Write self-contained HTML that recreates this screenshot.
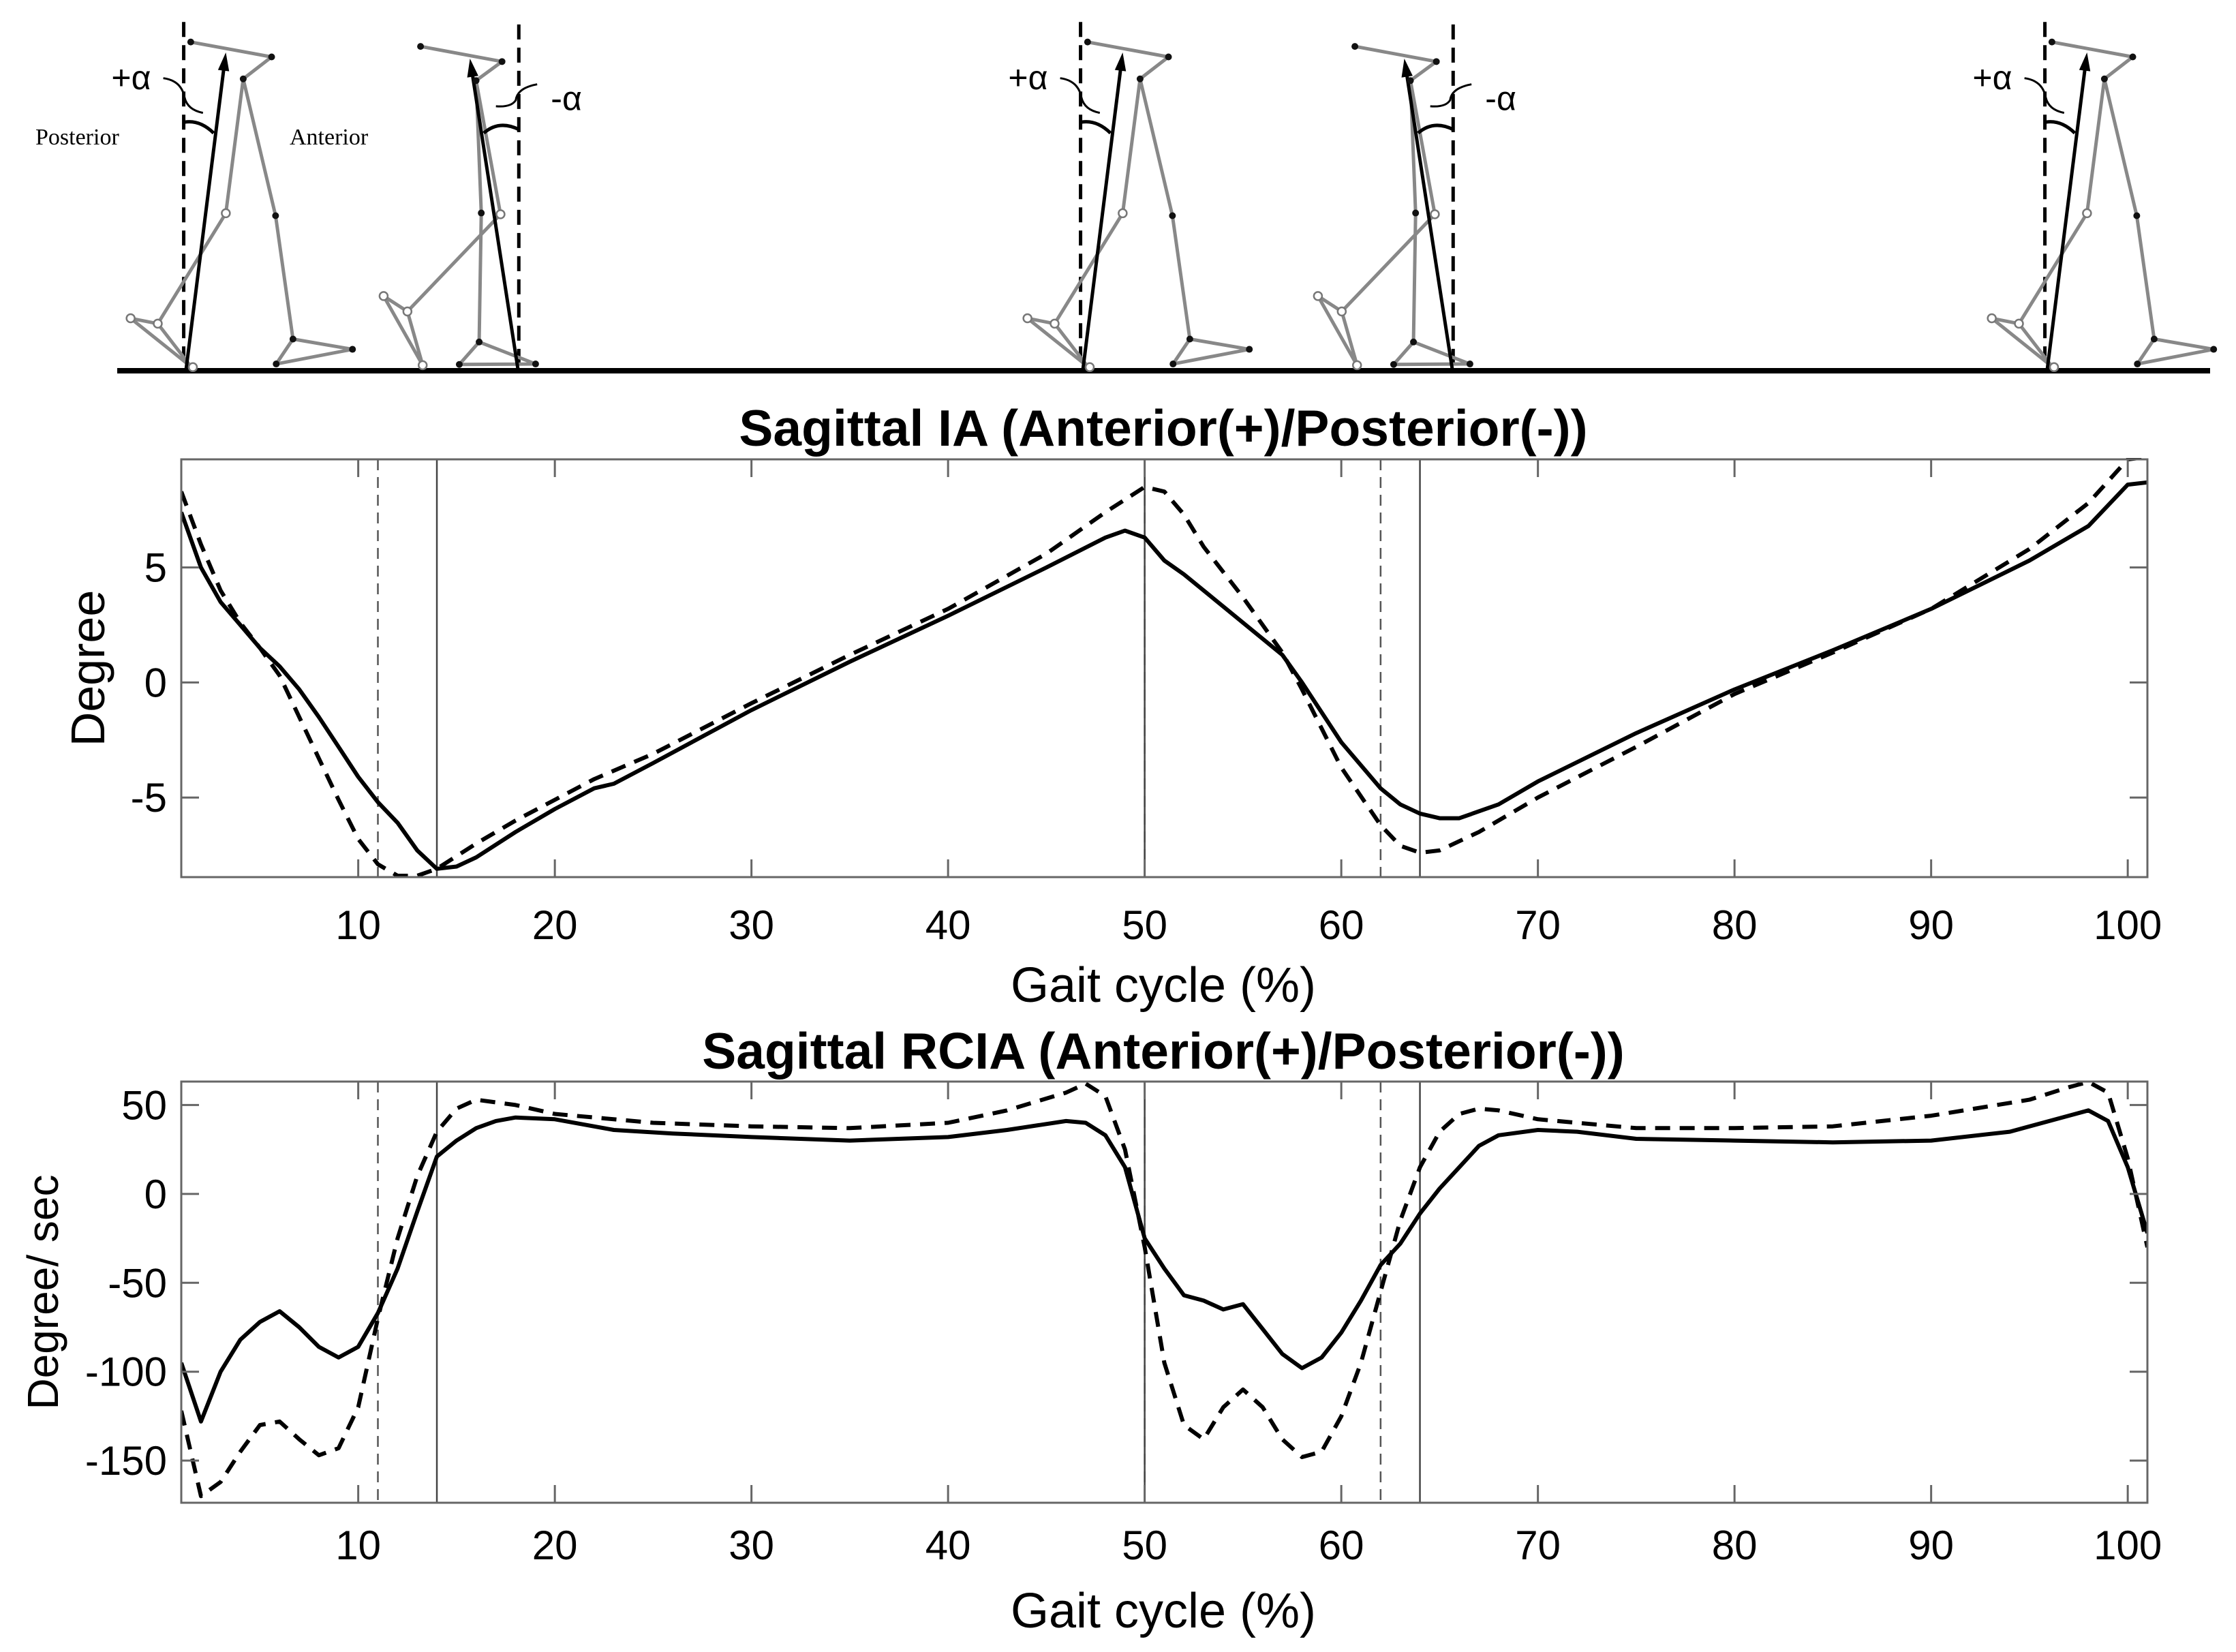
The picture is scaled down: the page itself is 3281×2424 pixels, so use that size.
<!DOCTYPE html>
<html><head><meta charset="utf-8">
<style>
html,body{margin:0;padding:0;background:#fff;}
svg{display:block;font-family:"Liberation Sans",Arial,sans-serif;}
</style></head>
<body>
<svg id="chart" width="3281" height="2424" viewBox="0 0 3281 2424" xmlns="http://www.w3.org/2000/svg">
<rect width="3281" height="2424" fill="#fff"/>
<g id="sticks"></g>
<g id="p1"></g>
<g id="p2"></g>
</svg>
<script>
const NS="http://www.w3.org/2000/svg";
// ---- data ----
const iaSolidX=[1,2,3,4,5,6,7,8,9,10,11,12,13,14,15,16,18,20,22,23,25,30,35,40,45,48,49,50,51,52,53,55,57,58,60,62,63,64,65,66,68,70,75,80,85,90,95,98,100,101];
const iaSolidY=[7.4,5,3.5,2.5,1.5,0.7,-0.3,-1.5,-2.8,-4.1,-5.2,-6.1,-7.3,-8.1,-8.0,-7.6,-6.5,-5.5,-4.6,-4.4,-3.5,-1.2,0.9,2.9,5.0,6.3,6.6,6.3,5.3,4.7,4.0,2.6,1.2,0,-2.6,-4.6,-5.3,-5.7,-5.9,-5.9,-5.3,-4.3,-2.2,-0.3,1.4,3.2,5.3,6.8,8.6,8.7];
const iaDashX=[1,2,3,4,5,6,7,8,9,10,11,12,13,14,16,18,20,22,25,30,35,40,45,48,50,51,52,53,55,57,58,60,62,63,64,65,67,70,75,80,85,90,95,98,100,101];
const iaDashY=[8.3,6,4.0,2.6,1.5,0.3,-1.5,-3.3,-5.1,-6.8,-7.9,-8.4,-8.4,-8.1,-7,-6,-5.1,-4.2,-3.1,-0.9,1.2,3.2,5.6,7.4,8.5,8.3,7.3,5.9,3.7,1.3,-0.3,-3.7,-6.2,-7.1,-7.4,-7.3,-6.5,-5,-2.8,-0.5,1.3,3.2,5.8,7.8,9.7,9.8];
const rcSolidX=[1,2,3,4,5,6,7,8,9,10,11,12,13,14,15,16,17,18,20,23,26,30,35,40,43,46,47,48,49,50,51,52,53,54,55,56,57,58,59,60,61,62,63,64,65,66,67,68,70,72,75,80,85,90,94,97,98,99,100,101];
const rcSolidY=[-95,-128,-100,-82,-72,-66,-75,-86,-92,-86,-67,-42,-10,21,30,37,41,43,42,36,34,32,30,32,36,41,40,33,15,-25,-42,-57,-60,-65,-62,-76,-90,-98,-92,-78,-60,-40,-28,-11,3,15,27,33,36,35,31,30,29,30,35,44,47,41,15,-22];
const rcDashX=[1,2,3,4,5,6,7,8,9,10,11,12,13,14,15,16,18,20,25,30,35,40,43,46,47,48,49,50,51,52,53,54,55,56,57,58,59,60,61,62,63,64,65,66,67,68,70,75,80,85,90,95,97,98,99,100,101];
const rcDashY=[-122,-170,-162,-145,-130,-128,-138,-147,-143,-120,-70,-25,10,35,48,53,50,45,40,38,37,40,47,57,62,55,25,-30,-95,-130,-138,-120,-110,-120,-138,-148,-145,-125,-95,-55,-15,15,35,45,48,47,42,37,37,38,44,53,60,63,57,20,-30];
const xTicks=[10,20,30,40,50,60,70,80,90,100];
const iaYTicks=[-5,0,5];
const rcYTicks=[-150,-100,-50,0,50];
const eventSolid=[14,50,64];
const eventDashed=[11,50,62];

function el(tag,attrs,parent,text){const e=document.createElementNS(NS,tag);for(const k in attrs)e.setAttribute(k,attrs[k]);if(text!==undefined)e.textContent=text;parent.appendChild(e);return e;}

function panel(g,cfg){
  const L=266,R=3151,T=cfg.top,B=cfg.bottom;
  const sx=v=>L+(v-1)*(R-L)/100;
  const sy=v=>T+(cfg.ymax-v)*(B-T)/(cfg.ymax-cfg.ymin);
  eventDashed.forEach(v=>{const l=el('line',{x1:sx(v),x2:sx(v),y1:T,y2:B,stroke:'#555','stroke-width':2.5,'stroke-dasharray':'16 10'},g);
    
    });
  eventSolid.forEach(v=>{const l=el('line',{x1:sx(v),x2:sx(v),y1:T,y2:B,stroke:'#444','stroke-width':2.5},g);
    
    });
  const mk=(xs,ys,dash,name)=>{let d='';xs.forEach((x,i)=>{d+=(i?'L':'M')+sx(x).toFixed(1)+' '+sy(ys[i]).toFixed(1);});
    const p=el('path',{d:d,fill:'none',stroke:'#000','stroke-width':6,'stroke-linejoin':'round'},g);
    if(dash)p.setAttribute('stroke-dasharray','22 14');
    
    };
  mk(cfg.dx,cfg.dy,true,'dashed-series');
  mk(cfg.sxs,cfg.sys,false,'solid-series');
  el('rect',{x:0,y:T-60,width:L-1,height:B-T+120,fill:'#fff'},g);
  el('rect',{x:R+1,y:T-60,width:3281-R,height:B-T+120,fill:'#fff'},g);
  el('rect',{x:L-40,y:T-70,width:R-L+80,height:68,fill:'#fff'},g);
  el('rect',{x:L-40,y:B+2,width:R-L+80,height:40,fill:'#fff'},g);
  const t=el('text',{x:1707,y:cfg.titleY,'text-anchor':'middle','font-size':cfg.titleSize,'font-weight':'bold'},g,cfg.title);
  
  
  const fr=el('rect',{x:L,y:T,width:R-L,height:B-T,fill:'none',stroke:'#666','stroke-width':3},g);
  
  
  xTicks.forEach(v=>{
    el('line',{x1:sx(v),x2:sx(v),y1:B,y2:B-26,stroke:'#666','stroke-width':3},g);
    el('line',{x1:sx(v),x2:sx(v),y1:T,y2:T+26,stroke:'#666','stroke-width':3},g);
    const tl=el('text',{x:sx(v),y:cfg.xlabY,'text-anchor':'middle','font-size':60},g,String(v));
    
    
  });
  cfg.yt.forEach(v=>{
    el('line',{x1:L,x2:L+26,y1:sy(v),y2:sy(v),stroke:'#666','stroke-width':3},g);
    el('line',{x1:R,x2:R-26,y1:sy(v),y2:sy(v),stroke:'#666','stroke-width':3},g);
    const tl=el('text',{x:245,y:sy(v)+21,'text-anchor':'end','font-size':60},g,String(v));
    
    
  });
  const xl=el('text',{x:1707,y:cfg.xtitleY,'text-anchor':'middle','font-size':72},g,'Gait cycle (%)');
  
  
  const yl=el('text',{x:0,y:0,'text-anchor':'middle','font-size':cfg.ySize,transform:`translate(${cfg.ytitleX},${(T+B)/2}) rotate(-90)`},g,cfg.ytitle);
  
  
}
panel(document.getElementById('p1'),{top:674,bottom:1287,ymax:9.7,ymin:-8.46,title:'Sagittal IA (Anterior(+)/Posterior(-))',titleSize:75,titleY:654,xlabY:1378,xtitleY:1470,ytitle:'Degree',ySize:70,ytitleX:153,yt:iaYTicks,sxs:iaSolidX,sys:iaSolidY,dx:iaDashX,dy:iaDashY});
panel(document.getElementById('p2'),{top:1587,bottom:2205,ymax:63.2,ymin:-173.7,title:'Sagittal RCIA (Anterior(+)/Posterior(-))',titleSize:75,titleY:1568,xlabY:2288,xtitleY:2388,ytitle:'Degree/ sec',ySize:64,ytitleX:85,yt:rcYTicks,sxs:rcSolidX,sys:rcSolidY,dx:rcDashX,dy:rcDashY});

// ---- stick figures ----
const sg=document.getElementById('sticks');
const gl=el('rect',{x:172,y:540,width:3071,height:8,fill:'#000'},sg);


const A={dash:[267,90,1500],arrow:[275,1510,405,215],
  lines:[[[290,172],[555,233],[462,323]],[[462,323],[568,883],[625,1388],[820,1430],[570,1490],[625,1388]],[[462,323],[405,873],[182,1325],[93,1303],[290,1500],[182,1325]]],
  filled:[[290,172],[555,233],[462,323],[568,883],[625,1388],[820,1430],[570,1490]],open:[[405,873],[182,1325],[93,1303],[297,1503]],
  arc:'M270 500 Q320 490 365 545',curl:'M200 320 Q260 330 270 400 Q280 450 330 462',label:'+α',lx:30,ly:365};
const Bf={dash:[1365,100,1500],arrow:[1362,1510,1205,240],
  lines:[[[1043,190],[1310,252],[1225,330]],[[1225,330],[1242,872],[1235,1400],[1170,1492],[1420,1490],[1235,1400]],[[1225,330],[1305,877],[1000,1275],[922,1212],[1050,1495],[1000,1275]]],
  filled:[[1043,190],[1310,252],[1225,330],[1242,872],[1235,1400],[1170,1492],[1420,1490]],open:[[1305,877],[1000,1275],[922,1212],[1050,1495]],
  arc:'M1365 530 Q1300 490 1250 545',curl:'M1425 345 Q1360 360 1355 410 Q1340 440 1290 435',label:'-α',lx:1470,ly:450};
function fig(f,dx,name){
  const g=el('g',{},sg);
  
  
  const X=x=>150+x/2.233+dx, Y=y=>y/2.79;
  el('line',{x1:X(f.dash[0]),x2:X(f.dash[0]),y1:Y(f.dash[1]),y2:Y(f.dash[2]),stroke:'#000','stroke-width':5,'stroke-dasharray':'22 12'},g);
  f.lines.forEach(pl=>el('polyline',{points:pl.map(p=>X(p[0])+','+Y(p[1])).join(' '),fill:'none',stroke:'#888','stroke-width':5,'stroke-linejoin':'round'},g));
  const ax1=X(f.arrow[0]),ay1=Y(f.arrow[1]),ax2=X(f.arrow[2]),ay2=Y(f.arrow[3]);
  const ang=Math.atan2(ay2-ay1,ax2-ax1);
  el('line',{x1:ax1,y1:ay1,x2:ax2-Math.cos(ang)*20,y2:ay2-Math.sin(ang)*20,stroke:'#000','stroke-width':5},g);
  const h=(a,r)=>[ax2-Math.cos(ang+a)*r,ay2-Math.sin(ang+a)*r];
  const p1=h(0.3,28),p2=h(-0.3,28);
  el('polygon',{points:`${ax2},${ay2} ${p1[0]},${p1[1]} ${p2[0]},${p2[1]}`,fill:'#000'},g);
  f.filled.forEach(p=>el('circle',{cx:X(p[0]),cy:Y(p[1]),r:5,fill:'#111'},g));
  f.open.forEach(p=>el('circle',{cx:X(p[0]),cy:Y(p[1]),r:6,fill:'#fff',stroke:'#777','stroke-width':2.5},g));
  const tp=s=>s.replace(/(-?\d+\.?\d*) (-?\d+\.?\d*)/g,(m,a,b)=>X(+a).toFixed(1)+' '+Y(+b).toFixed(1));
  el('path',{d:tp(f.arc),fill:'none',stroke:'#000','stroke-width':5},g);
  el('path',{d:tp(f.curl),fill:'none',stroke:'#000','stroke-width':3},g);
  const t=el('text',{x:X(f.lx),y:Y(f.ly),'font-size':50},g,f.label);
  
  
}
fig(A,0,'figure-1');fig(Bf,0,'figure-2');fig(A,1316,'figure-3');fig(Bf,1371,'figure-4');fig(A,2731,'figure-5');
const pt=el('text',{x:52,y:212,'font-size':34,'font-family':'Liberation Serif, serif'},sg,'Posterior');


const at=el('text',{x:425,y:212,'font-size':34,'font-family':'Liberation Serif, serif'},sg,'Anterior');


</script>
</body></html>
